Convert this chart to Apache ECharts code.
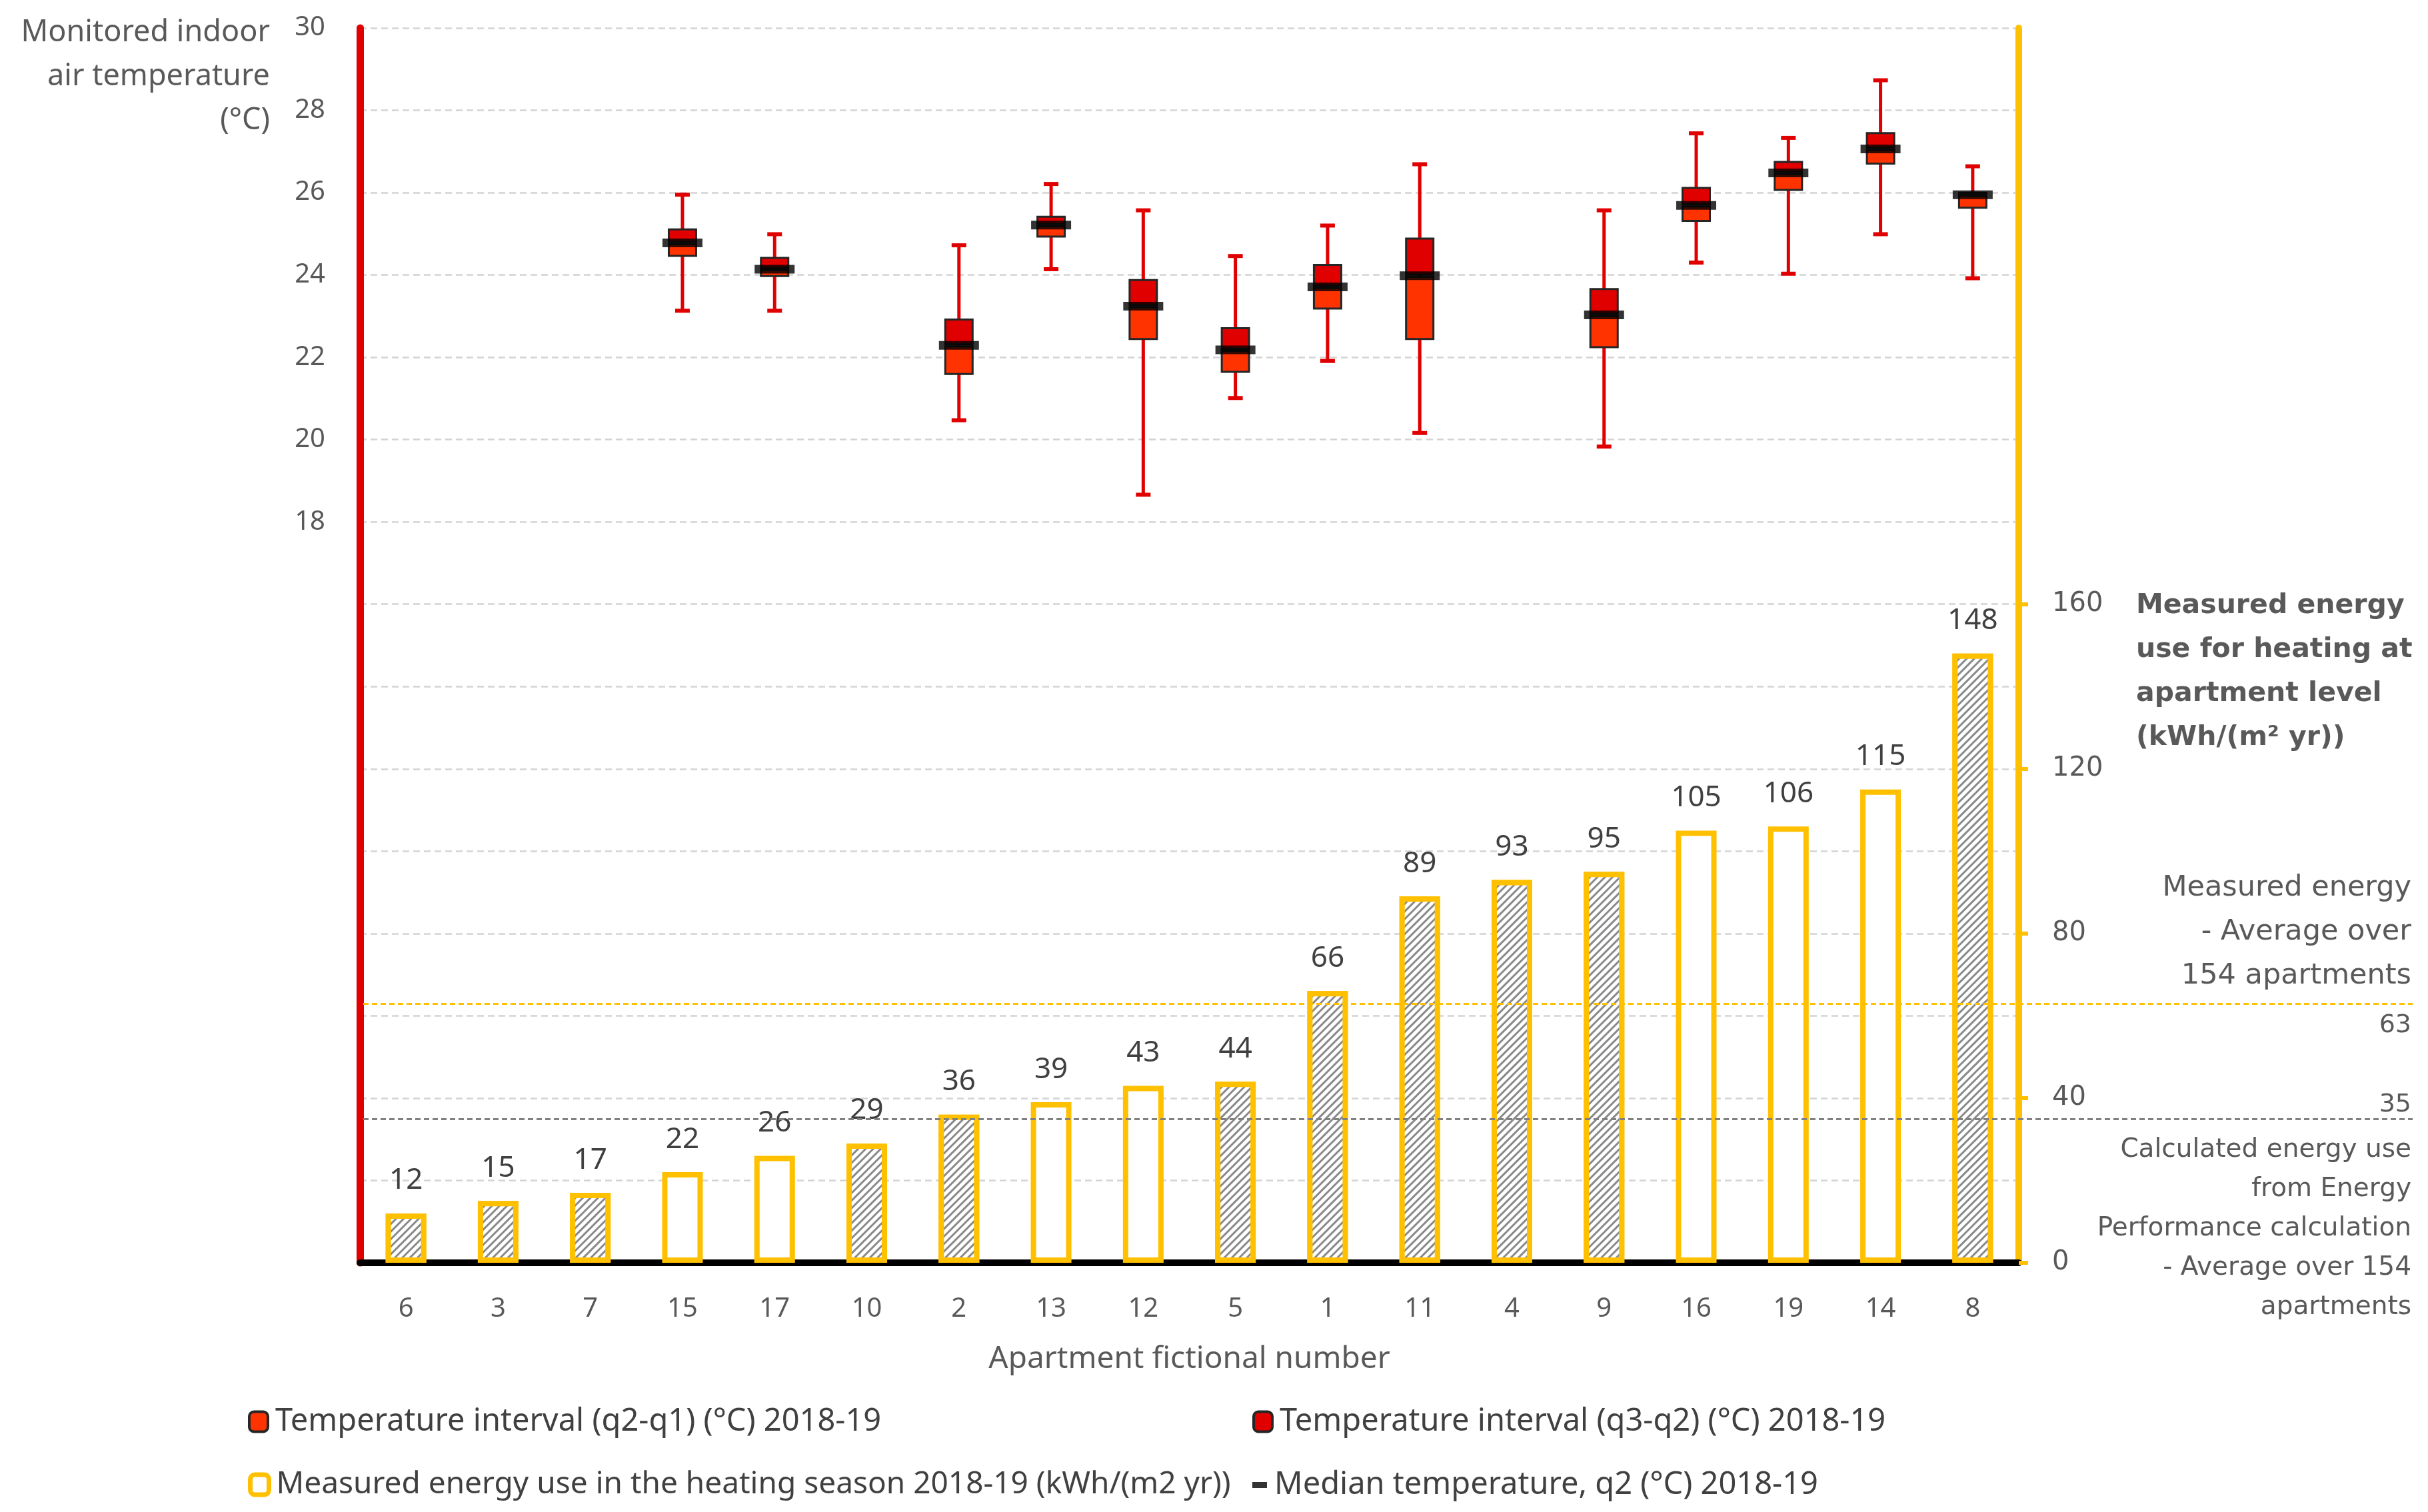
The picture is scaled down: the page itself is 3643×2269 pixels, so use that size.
<!DOCTYPE html>
<html><head><meta charset="utf-8">
<script src="https://cdn.jsdelivr.net/npm/echarts@6/dist/echarts.min.js"></script>
<style>html,body{margin:0;padding:0;background:#fff}#c{width:3643px;height:2269px}</style>
</head><body><div id="c"></div>
<script>
const categories = ['6','3','7','15','17','10','2','13','12','5','1','11','4','9','16','19','14','8'];
const energyUse = [12,15,17,22,26,29,36,39,43,44,66,89,93,95,105,106,115,148];
const hatched = [1,1,1,0,0,1,1,0,0,1,1,1,1,1,0,0,0,1];
const tempMin    = [null,null,null,23.13,23.13,null,20.47,24.14,18.66,21.01,21.91,20.16,null,19.83,24.30,24.03,24.99,23.92];
const tempQ1     = [null,null,null,24.44,23.95,null,21.57,24.91,22.42,21.62,23.16,22.42,null,22.22,25.29,26.04,26.68,25.61];
const tempMedian = [null,null,null,24.78,24.14,null,22.29,25.21,23.24,22.18,23.71,23.98,null,23.03,25.69,26.48,27.06,25.95];
const tempQ3     = [null,null,null,25.13,24.44,null,22.94,25.44,23.90,22.73,24.27,24.91,null,23.68,26.14,26.77,27.47,26.02];
const tempMax    = [null,null,null,25.95,24.99,null,24.72,26.21,25.57,24.46,25.20,26.69,null,25.57,27.44,27.33,28.73,26.64];
const tempAxisLabels = [18,20,22,24,26,28,30];
const energyAxisLabels = [0,40,80,120,160];
const avgMeasured = 63;
const avgCalculated = 35;

const nameQ21 = 'Temperature interval (q2-q1) (°C) 2018-19';
const nameQ32 = 'Temperature interval (q3-q2) (°C) 2018-19';
const nameEnergy = 'Measured energy use in the heating season 2018-19 (kWh/(m2 yr))';
const nameMedian = 'Median temperature, q2 (°C) 2018-19';
const textMeasuredAvg = 'Measured energy\n- Average over\n154 apartments';
const textCalcAvg = 'Calculated energy use\nfrom Energy\nPerformance calculation\n- Average over 154\napartments';

const GRID = {left: 540, right: 614, top: 42, bottom: 374};
const FONT = '"Noto Sans", sans-serif';
const FONT2 = '"DejaVu Sans", sans-serif';
const GREY = '#595959';
const YEL = '#FFC000';
const TEXT_RIGHT = 3618;

const hatchDecal = {symbol: 'rect', symbolSize: 1, dashArrayX: [1, 0], dashArrayY: [3, 5], rotation: -Math.PI / 4, color: '#8a8a8a', backgroundColor: '#ffffff'};

const dash = v => (v == null ? '-' : v);
const diff = (a, b) => a.map((v, i) => (v == null || b[i] == null ? '-' : +(v - b[i]).toFixed(2)));

const whiskerData = [];
tempMin.forEach((v, i) => { if (v != null) whiskerData.push([i, v, tempMax[i]]); });

const chart = echarts.init(document.getElementById('c'), null, {renderer: 'canvas'});

const legendBase = (name, left, top, extra, fontSize) => Object.assign({
  data: [name], left: left, top: top, padding: 0, selectedMode: false,
  itemWidth: 28, itemHeight: 30,
  textStyle: {fontFamily: FONT, fontSize: fontSize || 47, color: '#404040', padding: [0, 0, 0, 6]}
}, extra || {});

chart.setOption({
  animation: false,
  backgroundColor: '#ffffff',
  grid: GRID,
  xAxis: [
    {type: 'category', data: categories, boundaryGap: true,
     axisLine: {lineStyle: {color: '#000', width: 10}},
     axisTick: {show: false},
     axisLabel: {fontFamily: FONT, fontSize: 40, color: GREY, margin: 50},
     name: 'Apartment fictional number', nameLocation: 'middle', nameGap: 122,
     nameTextStyle: {fontFamily: FONT, fontSize: 46, color: GREY}},
    {type: 'category', data: categories, boundaryGap: true, show: false}
  ],
  yAxis: [
    {type: 'value', min: 0, max: 30, interval: 2, position: 'left',
     axisLine: {show: true, lineStyle: {color: '#E00000', width: 11}},
     axisTick: {show: false},
     axisLabel: {customValues: tempAxisLabels, fontFamily: FONT, fontSize: 40, color: GREY, margin: 52},
     splitLine: {show: true, lineStyle: {color: '#d4d4d4', width: 2.5, type: [10, 6]}}},
    {type: 'value', min: 0, max: 300, interval: 20, position: 'right',
     axisLine: {show: true, lineStyle: {color: YEL, width: 10}},
     axisTick: {show: true, customValues: energyAxisLabels, length: 14, lineStyle: {color: YEL, width: 6}},
     axisLabel: {customValues: energyAxisLabels, fontFamily: FONT2, fontSize: 40, color: GREY, margin: 50},
     splitLine: {show: false}}
  ],
  legend: [
    legendBase(nameQ21, 372, 2110, {itemStyle: {color: '#FF3300', borderColor: '#262626', borderWidth: 4}}),
    legendBase(nameQ32, 1879, 2110, {itemStyle: {color: '#E00000', borderColor: '#262626', borderWidth: 4}}),
    legendBase(nameEnergy, 372, 2205, {itemStyle: {color: '#ffffff', borderColor: YEL, borderWidth: 7}}, 46),
    legendBase(nameMedian, 1879, 2205, {icon: 'rect', itemWidth: 22, itemHeight: 9, itemStyle: {color: '#000'}})
  ],
  series: [
    {
      name: nameEnergy, type: 'bar', xAxisIndex: 0, yAxisIndex: 1, barWidth: 61, z: 2,
      itemStyle: {color: '#ffffff', borderColor: YEL, borderWidth: 8},
      label: {show: true, position: 'top', distance: 27, fontFamily: FONT, fontSize: 44, color: '#404040'},
      data: energyUse.map((v, i) => hatched[i] ? {value: v, itemStyle: {decal: hatchDecal}} : {value: v}),
      markLine: {
        silent: true, symbol: ['none', 'none'], animation: false,
        label: {show: false},
        data: [
          [{yAxis: avgMeasured, x: 545, lineStyle: {color: YEL, width: 3, type: [8, 5]}}, {yAxis: avgMeasured, x: 3620}],
          [{yAxis: avgCalculated, x: 545, lineStyle: {color: '#808080', width: 3, type: [8, 5]}}, {yAxis: avgCalculated, x: 3620}]
        ]
      }
    },
    {
      type: 'custom', xAxisIndex: 1, yAxisIndex: 0, z: 2, silent: true,
      encode: {x: 0, y: [1, 2]},
      data: whiskerData,
      renderItem: function (params, api) {
        const lo = api.coord([api.value(0), api.value(1)]);
        const hi = api.coord([api.value(0), api.value(2)]);
        const x = lo[0], cap = 11;
        return {type: 'group', children: [
          {type: 'line', shape: {x1: x, y1: lo[1], x2: x, y2: hi[1]}, style: {stroke: '#E00000', lineWidth: 5}},
          {type: 'line', shape: {x1: x - cap, y1: lo[1], x2: x + cap, y2: lo[1]}, style: {stroke: '#E00000', lineWidth: 6}},
          {type: 'line', shape: {x1: x - cap, y1: hi[1], x2: x + cap, y2: hi[1]}, style: {stroke: '#E00000', lineWidth: 6}}
        ]};
      }
    },
    {
      type: 'bar', xAxisIndex: 1, yAxisIndex: 0, stack: 'temp', barWidth: 44, z: 3, silent: true,
      itemStyle: {color: 'rgba(0,0,0,0)', borderWidth: 0},
      data: tempQ1.map(dash)
    },
    {
      name: nameQ21, type: 'bar', xAxisIndex: 1, yAxisIndex: 0, stack: 'temp', barWidth: 44, z: 3,
      itemStyle: {color: '#FF3300', borderColor: '#262626', borderWidth: 3},
      data: diff(tempMedian, tempQ1)
    },
    {
      name: nameQ32, type: 'bar', xAxisIndex: 1, yAxisIndex: 0, stack: 'temp', barWidth: 44, z: 3,
      itemStyle: {color: '#E00000', borderColor: '#262626', borderWidth: 3},
      data: diff(tempQ3, tempMedian)
    },
    {
      name: nameMedian, type: 'scatter', xAxisIndex: 1, yAxisIndex: 0, z: 4,
      symbol: 'rect', symbolSize: [60, 13],
      itemStyle: {color: '#000000'},
      data: tempMedian.map(dash)
    }
  ]
});

const yMeas = chart.convertToPixel({yAxisIndex: 1}, avgMeasured);
const yCalc = chart.convertToPixel({yAxisIndex: 1}, avgCalculated);

chart.setOption({
  graphic: [
    {type: 'text', id: 'ytitle', x: 405, y: 16, silent: true,
     style: {text: 'Monitored indoor\nair temperature\n(°C)', font: '45px "Noto Sans"', fill: GREY, align: 'right', verticalAlign: 'top', lineHeight: 66}},
    {type: 'text', id: 'y2title', x: 3205, y: 876, silent: true,
     style: {text: 'Measured energy\nuse for heating at\napartment level\n(kWh/(m² yr))', font: 'bold 41px "DejaVu Sans"', fill: GREY, align: 'left', verticalAlign: 'top', lineHeight: 66}},
    {type: 'text', id: 'measTxt', x: TEXT_RIGHT, y: yMeas - 8, silent: true,
     style: {text: textMeasuredAvg, font: '43px "DejaVu Sans"', fill: GREY, align: 'right', verticalAlign: 'bottom', lineHeight: 66}},
    {type: 'text', id: 'measVal', x: TEXT_RIGHT, y: yMeas + 9, silent: true,
     style: {text: String(avgMeasured), font: '38px "DejaVu Sans"', fill: GREY, align: 'right', verticalAlign: 'top', lineHeight: 48}},
    {type: 'text', id: 'calcVal', x: TEXT_RIGHT, y: yCalc + 1, silent: true,
     style: {text: String(avgCalculated), font: '38px "DejaVu Sans"', fill: GREY, align: 'right', verticalAlign: 'bottom', lineHeight: 44}},
    {type: 'text', id: 'calcTxt', x: TEXT_RIGHT, y: yCalc + 18, silent: true,
     style: {text: textCalcAvg, font: '39px "DejaVu Sans"', fill: GREY, align: 'right', verticalAlign: 'top', lineHeight: 59}}
  ]
});
</script></body></html>
